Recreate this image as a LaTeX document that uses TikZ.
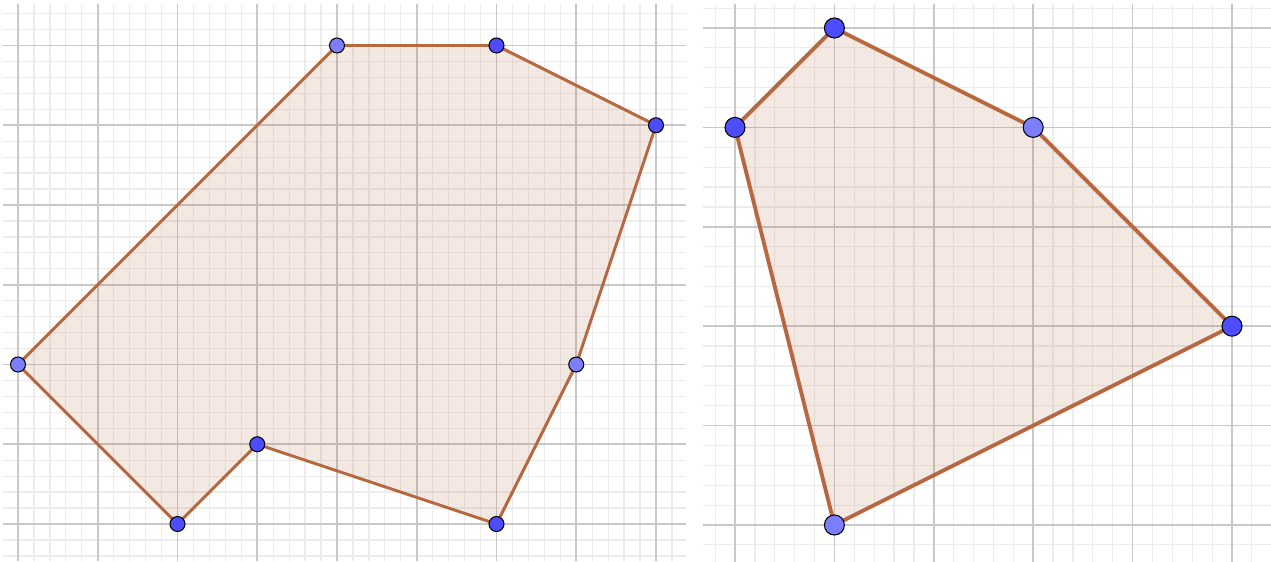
\documentclass[tikz,border=0pt]{standalone}
\definecolor{edgebrown}{RGB}{184,104,64}
\definecolor{ptdark}{RGB}{77,77,255}
\definecolor{ptlight}{RGB}{125,125,255}
\definecolor{majorgray}{RGB}{200,200,200}
\definecolor{minorgray}{RGB}{236,236,236}
\begin{document}
\begin{tikzpicture}[
    minorgrid/.style={draw=minorgray, line width=0.7pt},
    majorgrid/.style={draw=majorgray, line width=1pt},
    poly/.style={draw=edgebrown, fill=edgebrown, fill opacity=0.15, line join=round},
    pt/.style={circle, draw=black, line width=0.6pt, inner sep=0pt},
    dark/.style={pt, fill=ptdark},
    light/.style={pt, fill=ptlight}]
  \useasboundingbox (0,0) rectangle (25.42,11.22);
  % left polygon
  \begin{scope}[shift={(0.36cm,0.74cm)}, x=1.595cm, y=1.595cm]
    \draw[minorgrid, step=0.2] (-0.19,-0.47) grid (8.37,6.52);
    \draw[majorgrid, step=1] (-0.19,-0.47) grid (8.37,6.52);
    \coordinate (l1) at (4,6);
    \coordinate (l2) at (6,6);
    \coordinate (l3) at (8,5);
    \coordinate (l4) at (7,2);
    \coordinate (l5) at (6,0);
    \coordinate (l6) at (3,1);
    \coordinate (l7) at (2,0);
    \coordinate (l8) at (0,2);
    \draw[poly, line width=1.7pt] (l1) -- (l2) -- (l3) -- (l4) -- (l5) -- (l6) -- (l7) -- (l8) -- cycle;
    \node[light, minimum size=0.3cm] (L1) at (l1) {};
    \node[dark,  minimum size=0.3cm] (L2) at (l2) {};
    \node[dark,  minimum size=0.3cm] (L3) at (l3) {};
    \node[light, minimum size=0.3cm] (L4) at (l4) {};
    \node[dark,  minimum size=0.3cm] (L5) at (l5) {};
    \node[dark,  minimum size=0.3cm] (L6) at (l6) {};
    \node[dark,  minimum size=0.3cm] (L7) at (l7) {};
    \node[light, minimum size=0.3cm] (L8) at (l8) {};
  \end{scope}
  % right polygon
  \begin{scope}[shift={(14.7cm,0.72cm)}, x=1.988cm, y=1.988cm]
    \draw[minorgrid, step=0.2] (-0.32,-0.37) grid (5.4,5.24);
    \draw[majorgrid, step=1] (-0.32,-0.37) grid (5.4,5.24);
    \coordinate (r1) at (1,5);
    \coordinate (r2) at (3,4);
    \coordinate (r3) at (5,2);
    \coordinate (r4) at (1,0);
    \coordinate (r5) at (0,4);
    \draw[poly, line width=2.2pt] (r1) -- (r2) -- (r3) -- (r4) -- (r5) -- cycle;
    \node[dark,  minimum size=0.4cm] (R1) at (r1) {};
    \node[light, minimum size=0.4cm] (R2) at (r2) {};
    \node[dark,  minimum size=0.4cm] (R3) at (r3) {};
    \node[light, minimum size=0.4cm] (R4) at (r4) {};
    \node[dark,  minimum size=0.4cm] (R5) at (r5) {};
  \end{scope}
\end{tikzpicture}
\end{document}
